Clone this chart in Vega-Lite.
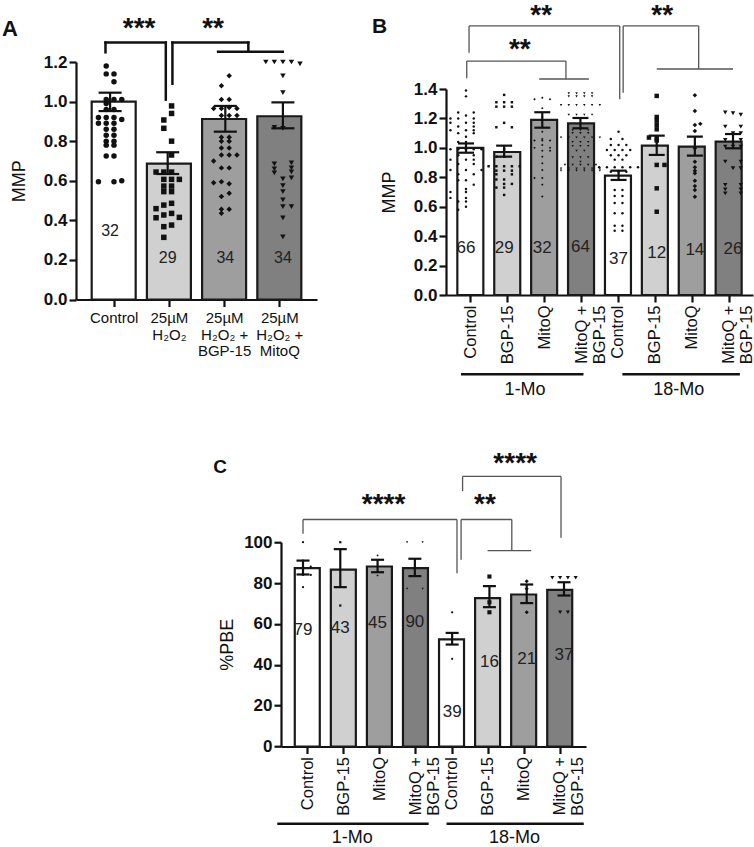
{
  "$schema": "https://vega.github.io/schema/vega-lite/v6.json",
  "padding": {"left": 2, "top": 2, "right": 0, "bottom": 0},
  "background": "white",
  "columns": 2,
  "spacing": {"row": 242.2, "column": 129},
  "align": {"row": "each", "column": "none"},
  "bounds": "flush",
  "config": {
    "view": {"stroke": null},
    "font": "Liberation Sans",
    "axis": {"domainColor": "#111", "domainWidth": 2.2, "tickColor": "#111", "tickWidth": 2.2, "tickSize": 7, "labelColor": "#111", "titleColor": "#111", "grid": false, "labelFont": "Liberation Sans", "titleFont": "Liberation Sans", "titleFontWeight": "normal", "labelOverlap": false, "labelFlush": false, "labelBound": false},
    "text": {"font": "Liberation Sans"}
  },
  "datasets": {
    "aBars": [{"i":0,"m":1.0,"lo":0.952,"hi":1.045},{"i":1,"m":0.687,"lo":0.634,"hi":0.744},{"i":2,"m":0.912,"lo":0.848,"hi":0.978},{"i":3,"m":0.926,"lo":0.865,"hi":0.996}],
    "aN": [{"i":0,"y":0.345,"t":"32"},{"i":1,"y":0.21,"t":"29"},{"i":2,"y":0.21,"t":"34"},{"i":3,"y":0.21,"t":"34"}],
    "aPts": [
      {"g":0,"v":1.18,"s":-0.5},{"g":0,"v":1.14,"s":-0.5},{"g":0,"v":1.14,"s":0.5},{"g":0,"v":1.10,"s":0.5},{"g":0,"v":1.01,"s":-0.5},{"g":0,"v":1.01,"s":0.5},{"g":0,"v":1.01,"s":1.5},{"g":0,"v":0.99,"s":-0.5},{"g":0,"v":0.96,"s":-0.5},{"g":0,"v":0.96,"s":0.5},{"g":0,"v":0.92,"s":-1.5},{"g":0,"v":0.92,"s":-0.5},{"g":0,"v":0.92,"s":0.5},{"g":0,"v":0.91,"s":1.5},{"g":0,"v":0.89,"s":-1.5},{"g":0,"v":0.89,"s":-0.5},{"g":0,"v":0.89,"s":0.5},{"g":0,"v":0.86,"s":-0.5},{"g":0,"v":0.86,"s":0.5},{"g":0,"v":0.83,"s":-0.5},{"g":0,"v":0.83,"s":0.5},{"g":0,"v":0.80,"s":-0.5},{"g":0,"v":0.80,"s":0.5},{"g":0,"v":0.78,"s":-0.5},{"g":0,"v":0.78,"s":0.5},{"g":0,"v":0.725,"s":-0.5},{"g":0,"v":0.725,"s":0.5},{"g":0,"v":0.595,"s":-1.5},{"g":0,"v":0.595,"s":0.5},{"g":0,"v":0.60,"s":1.5},
      {"g":1,"v":0.978,"s":0.5},{"g":1,"v":0.94,"s":0.5},{"g":1,"v":0.907,"s":-0.5},{"g":1,"v":0.865,"s":-0.5},{"g":1,"v":0.80,"s":0.5},{"g":1,"v":0.73,"s":0.5},{"g":1,"v":0.644,"s":-1.5},{"g":1,"v":0.644,"s":-0.5},{"g":1,"v":0.644,"s":0.5},{"g":1,"v":0.607,"s":-0.5},{"g":1,"v":0.607,"s":0.5},{"g":1,"v":0.607,"s":1.5},{"g":1,"v":0.573,"s":-0.5},{"g":1,"v":0.573,"s":0.5},{"g":1,"v":0.545,"s":-0.5},{"g":1,"v":0.545,"s":0.5},{"g":1,"v":0.486,"s":0.5},{"g":1,"v":0.477,"s":-0.5},{"g":1,"v":0.459,"s":-1.5},{"g":1,"v":0.435,"s":0.5},{"g":1,"v":0.427,"s":-0.5},{"g":1,"v":0.415,"s":1.5},{"g":1,"v":0.413,"s":-1.5},{"g":1,"v":0.376,"s":0.5},{"g":1,"v":0.368,"s":-0.5},{"g":1,"v":0.314,"s":-0.5},
      {"g":2,"v":1.13,"s":0.5},{"g":2,"v":1.08,"s":-0.5},{"g":2,"v":1.01,"s":-0.5},{"g":2,"v":1.01,"s":0.5},{"g":2,"v":0.965,"s":-1.5},{"g":2,"v":0.965,"s":-0.5},{"g":2,"v":0.97,"s":0.5},{"g":2,"v":0.965,"s":1.5},{"g":2,"v":0.93,"s":-0.5},{"g":2,"v":0.93,"s":0.5},{"g":2,"v":0.93,"s":1.5},{"g":2,"v":0.82,"s":-0.5},{"g":2,"v":0.82,"s":0.5},{"g":2,"v":0.80,"s":-0.5},{"g":2,"v":0.80,"s":0.5},{"g":2,"v":0.765,"s":-0.5},{"g":2,"v":0.765,"s":0.5},{"g":2,"v":0.73,"s":-0.5},{"g":2,"v":0.73,"s":0.5},{"g":2,"v":0.73,"s":1.5},{"g":2,"v":0.70,"s":-1.5},{"g":2,"v":0.665,"s":-0.5},{"g":2,"v":0.665,"s":0.5},{"g":2,"v":0.59,"s":-1.5},{"g":2,"v":0.595,"s":-0.5},{"g":2,"v":0.585,"s":0.5},{"g":2,"v":0.537,"s":0.5},{"g":2,"v":0.52,"s":-0.5},{"g":2,"v":0.456,"s":-0.5},{"g":2,"v":0.456,"s":0.5},{"g":2,"v":0.436,"s":-0.5},
      {"g":3,"v":1.2,"s":-2.2},{"g":3,"v":1.2,"s":-1.1},{"g":3,"v":1.2,"s":0},{"g":3,"v":1.2,"s":1.1},{"g":3,"v":1.19,"s":2.2},{"g":3,"v":1.13,"s":0},{"g":3,"v":1.045,"s":0},{"g":3,"v":0.865,"s":0},{"g":3,"v":0.87,"s":-1.1},{"g":3,"v":0.685,"s":-1.1},{"g":3,"v":0.69,"s":1.1},{"g":3,"v":0.66,"s":-1.1},{"g":3,"v":0.665,"s":1.1},{"g":3,"v":0.64,"s":-1.1},{"g":3,"v":0.645,"s":1.1},{"g":3,"v":0.61,"s":0},{"g":3,"v":0.615,"s":1.1},{"g":3,"v":0.575,"s":0},{"g":3,"v":0.545,"s":0},{"g":3,"v":0.503,"s":0},{"g":3,"v":0.469,"s":0},{"g":3,"v":0.469,"s":1.1},{"g":3,"v":0.413,"s":0},{"g":3,"v":0.317,"s":0}
    ],
    "aBr": [{"x":-0.08,"x2":-0.08,"y":1.249,"y2":1.298},{"x":-0.08,"x2":0.967,"y":1.298,"y2":1.298},{"x":0.967,"x2":0.967,"y":1.298,"y2":1.01},{"x":1.082,"x2":1.082,"y":1.09,"y2":1.298},{"x":1.082,"x2":2.40,"y":1.298,"y2":1.298},{"x":2.40,"x2":2.40,"y":1.298,"y2":1.252},{"x":1.875,"x2":2.998,"y":1.252,"y2":1.252}],
    "aTxt": [{"x":0.503,"y":1.436,"t":"***"},{"x":1.788,"y":1.436,"t":"**"}],
    "aLab": [{"x":-1.875,"y":1.415,"t":"A"}],
    "bBars": [{"i":0,"m":1.0,"lo":0.967,"hi":1.03},{"i":1,"m":0.972,"lo":0.94,"hi":1.015},{"i":2,"m":1.19,"lo":1.137,"hi":1.242},{"i":3,"m":1.167,"lo":1.133,"hi":1.203},{"i":4,"m":0.811,"lo":0.782,"hi":0.845},{"i":5,"m":1.015,"lo":0.952,"hi":1.083},{"i":6,"m":1.008,"lo":0.947,"hi":1.076},{"i":7,"m":1.042,"lo":0.997,"hi":1.094}],
    "bN": [{"i":0,"y":0.317,"t":"66"},{"i":1,"y":0.317,"t":"29"},{"i":2,"y":0.317,"t":"32"},{"i":3,"y":0.328,"t":"64"},{"i":4,"y":0.243,"t":"37"},{"i":5,"y":0.288,"t":"12"},{"i":6,"y":0.306,"t":"14"},{"i":7,"y":0.313,"t":"26"}],
    "bPts": [
      {"g":0,"v":1.39,"s":0},{"g":0,"v":1.35,"s":0},{"g":0,"v":1.24,"s":-1},{"g":0,"v":1.24,"s":1},{"g":0,"v":1.22,"s":0},{"g":0,"v":1.20,"s":-2},{"g":0,"v":1.20,"s":-1},{"g":0,"v":1.20,"s":1},{"g":0,"v":1.17,"s":-2},{"g":0,"v":1.17,"s":0},{"g":0,"v":1.17,"s":1},{"g":0,"v":1.145,"s":-1},{"g":0,"v":1.145,"s":1},{"g":0,"v":1.12,"s":-2},{"g":0,"v":1.12,"s":0},{"g":0,"v":1.12,"s":1},{"g":0,"v":1.10,"s":-1},{"g":0,"v":1.10,"s":1},{"g":0,"v":1.075,"s":0},{"g":0,"v":1.04,"s":-1},{"g":0,"v":1.04,"s":0},{"g":0,"v":0.99,"s":-2},{"g":0,"v":0.99,"s":-1},{"g":0,"v":0.99,"s":0},{"g":0,"v":0.99,"s":1},{"g":0,"v":0.99,"s":2},{"g":0,"v":0.95,"s":-1},{"g":0,"v":0.95,"s":1},{"g":0,"v":0.92,"s":-2},{"g":0,"v":0.92,"s":0},{"g":0,"v":0.92,"s":1},{"g":0,"v":0.89,"s":-1},{"g":0,"v":0.89,"s":1},{"g":0,"v":0.85,"s":-2},{"g":0,"v":0.85,"s":0},{"g":0,"v":0.85,"s":2},{"g":0,"v":0.82,"s":-1},{"g":0,"v":0.82,"s":1},{"g":0,"v":0.78,"s":-1},{"g":0,"v":0.78,"s":0},{"g":0,"v":0.75,"s":1},{"g":0,"v":0.72,"s":0},{"g":0,"v":0.70,"s":-2},{"g":0,"v":0.70,"s":0},{"g":0,"v":0.66,"s":-2},{"g":0,"v":0.66,"s":0},{"g":0,"v":0.635,"s":-1},{"g":0,"v":0.635,"s":0},{"g":0,"v":0.60,"s":0},{"g":0,"v":0.58,"s":-1},
      {"g":1,"v":1.36,"s":0},{"g":1,"v":1.31,"s":-1},{"g":1,"v":1.31,"s":0},{"g":1,"v":1.31,"s":1},{"g":1,"v":1.28,"s":-1},{"g":1,"v":1.28,"s":0},{"g":1,"v":1.28,"s":1},{"g":1,"v":1.17,"s":0},{"g":1,"v":1.14,"s":-1},{"g":1,"v":1.14,"s":1},{"g":1,"v":0.99,"s":0},{"g":1,"v":0.94,"s":-1},{"g":1,"v":0.94,"s":0},{"g":1,"v":0.875,"s":-2},{"g":1,"v":0.875,"s":-1},{"g":1,"v":0.875,"s":0},{"g":1,"v":0.875,"s":1},{"g":1,"v":0.875,"s":2},{"g":1,"v":0.845,"s":-1},{"g":1,"v":0.845,"s":0},{"g":1,"v":0.845,"s":1},{"g":1,"v":0.82,"s":-1},{"g":1,"v":0.82,"s":1},{"g":1,"v":0.785,"s":-1},{"g":1,"v":0.785,"s":0},{"g":1,"v":0.755,"s":0},{"g":1,"v":0.755,"s":1},{"g":1,"v":0.73,"s":-1},{"g":1,"v":0.73,"s":0},{"g":1,"v":0.68,"s":0},
      {"g":2,"v":1.34,"s":0},{"g":2,"v":1.33,"s":-1},{"g":2,"v":1.33,"s":1},{"g":2,"v":1.27,"s":0},{"g":2,"v":1.21,"s":0},{"g":2,"v":1.11,"s":0},{"g":2,"v":1.06,"s":0},{"g":2,"v":1.05,"s":-1},{"g":2,"v":1.05,"s":0},{"g":2,"v":1.05,"s":1},{"g":2,"v":1.02,"s":0},{"g":2,"v":1.0,"s":-1},{"g":2,"v":1.0,"s":1},{"g":2,"v":0.98,"s":0},{"g":2,"v":0.98,"s":1},{"g":2,"v":0.94,"s":0},{"g":2,"v":0.895,"s":0},{"g":2,"v":0.85,"s":0},{"g":2,"v":0.795,"s":-1},{"g":2,"v":0.795,"s":0},{"g":2,"v":0.75,"s":0},{"g":2,"v":0.67,"s":0},
      {"g":3,"v":1.37,"s":-1.5},{"g":3,"v":1.37,"s":-0.5},{"g":3,"v":1.37,"s":0.5},{"g":3,"v":1.37,"s":1.5},{"g":3,"v":1.35,"s":-1.5},{"g":3,"v":1.35,"s":-0.5},{"g":3,"v":1.35,"s":0.5},{"g":3,"v":1.35,"s":1.5},{"g":3,"v":1.29,"s":-2.5},{"g":3,"v":1.29,"s":-1.5},{"g":3,"v":1.29,"s":-0.5},{"g":3,"v":1.29,"s":0.5},{"g":3,"v":1.29,"s":1.5},{"g":3,"v":1.29,"s":2.5},{"g":3,"v":1.225,"s":-1.5},{"g":3,"v":1.225,"s":-0.5},{"g":3,"v":1.225,"s":0.5},{"g":3,"v":1.225,"s":1.5},{"g":3,"v":1.12,"s":-1},{"g":3,"v":1.12,"s":0},{"g":3,"v":1.12,"s":1},{"g":3,"v":1.10,"s":-1},{"g":3,"v":1.10,"s":0},{"g":3,"v":1.10,"s":1},{"g":3,"v":1.07,"s":-2.5},{"g":3,"v":1.07,"s":-1.5},{"g":3,"v":1.07,"s":-0.5},{"g":3,"v":1.07,"s":0.5},{"g":3,"v":1.07,"s":1.5},{"g":3,"v":1.07,"s":2.5},{"g":3,"v":1.04,"s":-1},{"g":3,"v":1.04,"s":0},{"g":3,"v":1.04,"s":1},{"g":3,"v":1.013,"s":-1},{"g":3,"v":1.013,"s":0},{"g":3,"v":1.013,"s":1},{"g":3,"v":0.98,"s":-0.5},{"g":3,"v":0.98,"s":0.5},{"g":3,"v":0.935,"s":-1},{"g":3,"v":0.935,"s":0},{"g":3,"v":0.935,"s":1},{"g":3,"v":0.906,"s":0},{"g":3,"v":0.884,"s":-2},{"g":3,"v":0.884,"s":-1},{"g":3,"v":0.884,"s":0},{"g":3,"v":0.884,"s":1},{"g":3,"v":0.884,"s":2},{"g":3,"v":0.86,"s":-2.5},{"g":3,"v":0.86,"s":-1.5},{"g":3,"v":0.86,"s":-0.5},{"g":3,"v":0.86,"s":0.5},{"g":3,"v":0.86,"s":1.5},{"g":3,"v":0.86,"s":2.5},{"g":3,"v":0.845,"s":-2.5},{"g":3,"v":0.845,"s":-1.5},{"g":3,"v":0.845,"s":-0.5},{"g":3,"v":0.845,"s":0.5},{"g":3,"v":0.845,"s":1.5},{"g":3,"v":0.845,"s":2.5},
      {"g":4,"v":1.11,"s":0},{"g":4,"v":1.06,"s":-1},{"g":4,"v":1.06,"s":0.5},{"g":4,"v":1.02,"s":-1},{"g":4,"v":1.02,"s":0},{"g":4,"v":1.02,"s":1},{"g":4,"v":0.985,"s":-1.5},{"g":4,"v":0.985,"s":-0.5},{"g":4,"v":0.985,"s":0.5},{"g":4,"v":0.985,"s":1.5},{"g":4,"v":0.95,"s":-1},{"g":4,"v":0.95,"s":0},{"g":4,"v":0.95,"s":1},{"g":4,"v":0.92,"s":-0.5},{"g":4,"v":0.92,"s":0.5},{"g":4,"v":0.868,"s":-2.5},{"g":4,"v":0.868,"s":-1.5},{"g":4,"v":0.868,"s":-0.5},{"g":4,"v":0.868,"s":0.5},{"g":4,"v":0.868,"s":1.5},{"g":4,"v":0.868,"s":2.5},{"g":4,"v":0.838,"s":-1},{"g":4,"v":0.838,"s":0},{"g":4,"v":0.838,"s":1},{"g":4,"v":0.714,"s":-0.5},{"g":4,"v":0.714,"s":0.5},{"g":4,"v":0.673,"s":-0.5},{"g":4,"v":0.673,"s":0.5},{"g":4,"v":0.625,"s":-0.5},{"g":4,"v":0.625,"s":0.5},{"g":4,"v":0.555,"s":-0.5},{"g":4,"v":0.555,"s":0.5},{"g":4,"v":0.47,"s":-0.5},{"g":4,"v":0.47,"s":0.5},{"g":4,"v":0.437,"s":-0.5},{"g":4,"v":0.437,"s":0.5},
      {"g":5,"v":1.353,"s":0},{"g":5,"v":1.21,"s":0},{"g":5,"v":1.185,"s":0},{"g":5,"v":1.156,"s":0},{"g":5,"v":1.126,"s":0},{"g":5,"v":1.07,"s":-1},{"g":5,"v":1.065,"s":0},{"g":5,"v":1.05,"s":0},{"g":5,"v":0.884,"s":0},{"g":5,"v":0.884,"s":1},{"g":5,"v":0.725,"s":0},{"g":5,"v":0.566,"s":0},
      {"g":6,"v":1.357,"s":0},{"g":6,"v":1.25,"s":0},{"g":6,"v":1.163,"s":0.7},{"g":6,"v":1.155,"s":0},{"g":6,"v":1.115,"s":0},{"g":6,"v":0.997,"s":0},{"g":6,"v":0.906,"s":0},{"g":6,"v":0.868,"s":0},{"g":6,"v":0.845,"s":0},{"g":6,"v":0.827,"s":0},{"g":6,"v":0.777,"s":0},{"g":6,"v":0.74,"s":0},{"g":6,"v":0.714,"s":0},{"g":6,"v":0.668,"s":0},
      {"g":7,"v":1.24,"s":-1},{"g":7,"v":1.235,"s":0},{"g":7,"v":1.225,"s":1},{"g":7,"v":1.144,"s":-1},{"g":7,"v":1.144,"s":1},{"g":7,"v":1.10,"s":0},{"g":7,"v":1.10,"s":1},{"g":7,"v":1.053,"s":-1},{"g":7,"v":1.053,"s":1},{"g":7,"v":1.008,"s":-1},{"g":7,"v":1.008,"s":0},{"g":7,"v":1.008,"s":1},{"g":7,"v":0.906,"s":-1},{"g":7,"v":0.906,"s":1},{"g":7,"v":0.861,"s":0},{"g":7,"v":0.861,"s":1},{"g":7,"v":0.748,"s":-1},{"g":7,"v":0.748,"s":1},{"g":7,"v":0.718,"s":-1},{"g":7,"v":0.718,"s":1},{"g":7,"v":0.691,"s":-1},{"g":7,"v":0.691,"s":1}
    ],
    "bBr": [{"x":0.08,"x2":0.08,"y":1.647,"y2":1.829},{"x":0.08,"x2":4.03,"y":1.829,"y2":1.829},{"x":4.03,"x2":4.03,"y":1.829,"y2":1.33},{"x":0.02,"x2":0.02,"y":1.473,"y2":1.59},{"x":0.02,"x2":2.62,"y":1.59,"y2":1.59},{"x":2.62,"x2":2.62,"y":1.59,"y2":1.468},{"x":1.92,"x2":3.22,"y":1.468,"y2":1.468},{"x":4.12,"x2":4.12,"y":1.829,"y2":1.375},{"x":4.12,"x2":6.1,"y":1.829,"y2":1.829},{"x":6.1,"x2":6.1,"y":1.829,"y2":1.536},{"x":5.0,"x2":7.0,"y":1.536,"y2":1.536}],
    "bTxt": [{"x":1.972,"y":1.991,"t":"**"},{"x":1.41,"y":1.762,"t":"**"},{"x":5.144,"y":1.991,"t":"**"}],
    "bLab": [{"x":-2.464,"y":1.894,"t":"B"}],
    "bGrpLine": [{"x":-0.13,"x2":3.08,"y":-0.539},{"x":4.1,"x2":7.18,"y":-0.539}],
    "bGrpTxt": [{"x":1.55,"y":-0.648,"t":"1-Mo"},{"x":5.58,"y":-0.648,"t":"18-Mo"}],
    "cBars": [{"i":0,"m":87.3,"lo":84.2,"hi":91.0},{"i":1,"m":86.6,"lo":78.0,"hi":96.6},{"i":2,"m":88.1,"lo":85.3,"hi":91.4},{"i":3,"m":87.3,"lo":83.4,"hi":91.9},{"i":4,"m":52.4,"lo":49.9,"hi":55.6},{"i":5,"m":72.6,"lo":68.2,"hi":78.5},{"i":6,"m":74.4,"lo":70.2,"hi":79.3},{"i":7,"m":76.7,"lo":73.9,"hi":80.4}],
    "cN": [{"i":0,"y":56.8,"t":"79"},{"i":1,"y":58.1,"t":"43"},{"i":2,"y":60.4,"t":"45"},{"i":3,"y":60.9,"t":"90"},{"i":4,"y":16.8,"t":"39"},{"i":5,"y":41.3,"t":"16"},{"i":6,"y":42.6,"t":"21"},{"i":7,"y":44.9,"t":"37"}],
    "cPts": [
      {"g":0,"v":100,"s":0},{"g":0,"v":91,"s":0},{"g":0,"v":88,"s":1},{"g":0,"v":84,"s":0},{"g":0,"v":84,"s":1},{"g":0,"v":78,"s":0},
      {"g":1,"v":100,"s":0},{"g":1,"v":69,"s":0},
      {"g":2,"v":93.5,"s":0},{"g":2,"v":83.7,"s":0},
      {"g":3,"v":100,"s":-1},{"g":3,"v":100,"s":1},{"g":3,"v":77.2,"s":-1},{"g":3,"v":77.2,"s":1},
      {"g":4,"v":65.7,"s":0},{"g":4,"v":42.9,"s":0},
      {"g":5,"v":83.2,"s":0},{"g":5,"v":70.6,"s":0},{"g":5,"v":65.7,"s":0},
      {"g":6,"v":80.9,"s":0},{"g":6,"v":77.2,"s":0},{"g":6,"v":65.7,"s":0},
      {"g":7,"v":82.6,"s":-1.5},{"g":7,"v":82.6,"s":-0.5},{"g":7,"v":82.6,"s":0.5},{"g":7,"v":82.6,"s":1.5},{"g":7,"v":65.7,"s":-0.5},{"g":7,"v":65.7,"s":0.5}
    ],
    "cBr": [{"x":0.0,"x2":0.0,"y":104.1,"y2":111.1},{"x":0.0,"x2":4.13,"y":111.1,"y2":111.1},{"x":4.13,"x2":4.13,"y":111.1,"y2":84.8},{"x":4.24,"x2":4.24,"y":111.1,"y2":91.4},{"x":4.24,"x2":5.6,"y":111.1,"y2":111.1},{"x":5.6,"x2":5.6,"y":111.1,"y2":95.9},{"x":4.95,"x2":6.12,"y":95.9,"y2":95.9},{"x":4.28,"x2":4.28,"y":132.2,"y2":125},{"x":4.28,"x2":6.92,"y":132.2,"y2":132.2},{"x":6.92,"x2":6.92,"y":132.2,"y2":102.2}],
    "cTxt": [{"x":2.16,"y":125.0,"t":"****"},{"x":4.88,"y":125.0,"t":"**"},{"x":5.69,"y":145.0,"t":"****"}],
    "cLab": [{"x":-2.41,"y":141.2,"t":"C"}],
    "cGrpLine": [{"x":-0.69,"x2":3.37,"y":-37.8},{"x":3.85,"x2":7.53,"y":-37.8}],
    "cGrpTxt": [{"x":1.32,"y":-45,"t":"1-Mo"},{"x":5.67,"y":-45,"t":"18-Mo"}]
  },
  "concat": [
    {
      "width": 241, "height": 237.5,
      "resolve": {"scale": {"x": "independent"}},
      "layer": [
        {
          "data": {"name": "aBars"},
          "mark": {"type": "bar", "orient": "vertical", "width": 44, "stroke": "#1a1a1a", "strokeWidth": 2.2, "opacity": 1},
          "encoding": {
            "x": {"field": "i", "type": "quantitative", "scale": {"domain": [-0.592, 3.592], "nice": false, "zero": false},
                  "axis": {"values": [0,1,2,3], "title": null, "labelExpr": "[['Control'],['25µM','H₂O₂'],['25µM','H₂O₂ +','BGP-15'],['25µM','H₂O₂ +','MitoQ']][datum.value]", "labelFontSize": 15, "labelBaseline": "top", "labelAlign": "center", "labelLineHeight": 16.7, "labelPadding": 4, "labelAngle": 0}},
            "y": {"field": "m", "type": "quantitative", "scale": {"domain": [0, 1.2], "nice": false},
                  "axis": {"values": [0,0.2,0.4,0.6,0.8,1,1.2], "format": ".1f", "title": "MMP", "titleFontSize": 18, "titlePadding": 14.5, "labelFontSize": 17, "labelFontWeight": "bold", "labelPadding": 2, "labelOverlap": false}},
            "fill": {"field": "i", "type": "nominal", "scale": {"domain": [0,1,2,3], "range": ["#ffffff","#d0d0d0","#9e9e9e","#808080"]}, "legend": null}
          }
        },
        {
          "data": {"name": "aPts"},
          "mark": {"type": "point", "filled": true, "opacity": 1, "color": "#111", "size": 30},
          "encoding": {
            "x": {"field": "g", "type": "ordinal", "scale": {"type": "point", "padding": 0.592, "domain": [0,1,2,3]}, "axis": null},
            "xOffset": {"field": "s", "type": "quantitative", "scale": {"domain": [-2.5, 2.5], "range": [-23.3, 23.3]}},
            "y": {"field": "v", "type": "quantitative", "scale": {"domain": [0, 1.2], "nice": false},
                  "axis": {"values": [0,0.2,0.4,0.6,0.8,1,1.2], "format": ".1f", "title": "MMP", "titleFontSize": 18, "titlePadding": 14.5, "labelFontSize": 17, "labelFontWeight": "bold", "labelPadding": 2, "labelOverlap": false}},
            "shape": {"field": "g", "type": "nominal", "scale": {"domain": [0,1,2,3], "range": ["circle","square","diamond","triangle-down"]}, "legend": null}
          }
        },
        {
          "encoding": {
            "y": {"type": "quantitative", "scale": {"domain": [0, 1.2], "nice": false},
                  "axis": {"values": [0,0.2,0.4,0.6,0.8,1,1.2], "format": ".1f", "title": "MMP", "titleFontSize": 18, "titlePadding": 14.5, "labelFontSize": 17, "labelFontWeight": "bold", "labelPadding": 2, "labelOverlap": false}}
          },
          "layer": [
            {
              "data": {"name": "aBars"},
              "mark": {"type": "rule", "color": "#111", "strokeWidth": 2.2},
              "encoding": {
                "x": {"field": "i", "type": "quantitative", "scale": {"domain": [-0.592, 3.592], "nice": false, "zero": false}, "axis": null},
                "y": {"field": "lo"},
                "y2": {"field": "hi"}
              }
            },
            {
              "data": {"name": "aBars"},
              "mark": {"type": "tick", "orient": "horizontal", "color": "#111", "thickness": 2.2, "size": 23, "opacity": 1},
              "encoding": {
                "x": {"field": "i", "type": "quantitative", "scale": {"domain": [-0.592, 3.592], "nice": false, "zero": false}, "axis": null},
                "y": {"field": "lo"}
              }
            },
            {
              "data": {"name": "aBars"},
              "mark": {"type": "tick", "orient": "horizontal", "color": "#111", "thickness": 2.2, "size": 23, "opacity": 1},
              "encoding": {
                "x": {"field": "i", "type": "quantitative", "scale": {"domain": [-0.592, 3.592], "nice": false, "zero": false}, "axis": null},
                "y": {"field": "hi"}
              }
            },
            {
              "data": {"name": "aN"},
              "mark": {"type": "text", "fontSize": 16, "color": "#222", "baseline": "middle", "align": "center"},
              "encoding": {
                "x": {"field": "i", "type": "quantitative", "scale": {"domain": [-0.592, 3.592], "nice": false, "zero": false}, "axis": null},
                "y": {"field": "y"},
                "text": {"field": "t"}
              }
            },
            {
              "data": {"name": "aBr"},
              "mark": {"type": "rule", "color": "#111", "strokeWidth": 2.5, "strokeCap": "square"},
              "encoding": {
                "x": {"field": "x", "type": "quantitative", "scale": {"domain": [-0.592, 3.592], "nice": false, "zero": false}, "axis": null},
                "x2": {"field": "x2"},
                "y": {"field": "y"},
                "y2": {"field": "y2"}
              }
            },
            {
              "data": {"name": "aTxt"},
              "mark": {"type": "text", "fontSize": 28, "fontWeight": "bold", "baseline": "top", "align": "center", "color": "#111"},
              "encoding": {
                "x": {"field": "x", "type": "quantitative", "scale": {"domain": [-0.592, 3.592], "nice": false, "zero": false}, "axis": null},
                "y": {"field": "y"},
                "text": {"field": "t"}
              }
            },
            {
              "data": {"name": "aLab"},
              "mark": {"type": "text", "fontSize": 22, "fontWeight": "bold", "baseline": "top", "align": "left", "color": "#111"},
              "encoding": {
                "x": {"field": "x", "type": "quantitative", "scale": {"domain": [-0.592, 3.592], "nice": false, "zero": false}, "axis": null},
                "y": {"field": "y"},
                "text": {"field": "t"}
              }
            }
          ]
        }
      ]
    },
    {
      "width": 307, "height": 233,
      "resolve": {"scale": {"x": "independent"}},
      "layer": [
        {
          "data": {"name": "bBars"},
          "mark": {"type": "bar", "orient": "vertical", "width": 26, "stroke": "#1a1a1a", "strokeWidth": 2.2, "opacity": 1},
          "encoding": {
            "x": {"field": "i", "type": "quantitative", "scale": {"domain": [-0.524, 7.524], "nice": false, "zero": false},
                  "axis": {"values": [0,1,2,3,4,5,6,7], "title": null, "labelExpr": "['Control','BGP-15','MitoQ',['MitoQ +','BGP-15'],'Control','BGP-15','MitoQ',['MitoQ +','BGP-15']][datum.value]", "labelFontSize": 16.5, "labelAngle": 270, "labelAlign": "right", "labelBaseline": "middle", "labelLineHeight": 18, "labelPadding": 3}},
            "y": {"field": "m", "type": "quantitative", "scale": {"domain": [0, 1.4], "range": [233, 27], "nice": false},
                  "axis": {"values": [0,0.2,0.4,0.6,0.8,1,1.2,1.4], "format": ".1f", "title": "MMP", "titleFontSize": 18, "titlePadding": 14.5, "labelFontSize": 17, "labelFontWeight": "bold", "labelPadding": 2, "labelOverlap": false}},
            "fill": {"field": "i", "type": "nominal", "scale": {"domain": [0,1,2,3,4,5,6,7], "range": ["#ffffff","#d0d0d0","#9e9e9e","#808080","#ffffff","#d0d0d0","#9e9e9e","#808080"]}, "legend": null}
          }
        },
        {
          "encoding": {
            "x": {"field": "g", "type": "ordinal", "scale": {"type": "point", "padding": 0.524, "domain": [0,1,2,3,4,5,6,7]}, "axis": null},
            "xOffset": {"field": "s", "type": "quantitative", "scale": {"domain": [-3, 3], "range": [-14, 14]}},
            "y": {"field": "v", "type": "quantitative", "scale": {"domain": [0, 1.4], "range": [233, 27], "nice": false},
                  "axis": {"values": [0,0.2,0.4,0.6,0.8,1,1.2,1.4], "format": ".1f", "title": "MMP", "titleFontSize": 18, "titlePadding": 14.5, "labelFontSize": 17, "labelFontWeight": "bold", "labelPadding": 2, "labelOverlap": false}},
            "shape": {"field": "g", "type": "nominal", "scale": {"domain": [0,1,2,3,4,5,6,7], "range": ["circle","square","triangle-up","triangle-down","circle","circle","square","circle"]}, "legend": null}
          },
          "layer": [
            {
              "data": {"name": "bPts"},
              "transform": [{"filter": "datum.g <= 4"}],
              "mark": {"type": "point", "filled": true, "opacity": 1, "color": "#111", "size": 6}
            },
            {
              "data": {"name": "bPts"},
              "transform": [{"filter": "datum.g >= 5"}],
              "mark": {"type": "point", "filled": true, "opacity": 1, "color": "#111", "size": 20}
            }
          ]
        },
        {
          "encoding": {
            "y": {"type": "quantitative", "scale": {"domain": [0, 1.4], "range": [233, 27], "nice": false},
                  "axis": {"values": [0,0.2,0.4,0.6,0.8,1,1.2,1.4], "format": ".1f", "title": "MMP", "titleFontSize": 18, "titlePadding": 14.5, "labelFontSize": 17, "labelFontWeight": "bold", "labelPadding": 2, "labelOverlap": false}}
          },
          "layer": [
            {
              "data": {"name": "bBars"},
              "mark": {"type": "rule", "color": "#111", "strokeWidth": 2.2},
              "encoding": {
                "x": {"field": "i", "type": "quantitative", "scale": {"domain": [-0.524, 7.524], "nice": false, "zero": false}, "axis": null},
                "y": {"field": "lo"},
                "y2": {"field": "hi"}
              }
            },
            {
              "data": {"name": "bBars"},
              "mark": {"type": "tick", "orient": "horizontal", "color": "#111", "thickness": 2.2, "size": 16, "opacity": 1},
              "encoding": {
                "x": {"field": "i", "type": "quantitative", "scale": {"domain": [-0.524, 7.524], "nice": false, "zero": false}, "axis": null},
                "y": {"field": "lo"}
              }
            },
            {
              "data": {"name": "bBars"},
              "mark": {"type": "tick", "orient": "horizontal", "color": "#111", "thickness": 2.2, "size": 16, "opacity": 1},
              "encoding": {
                "x": {"field": "i", "type": "quantitative", "scale": {"domain": [-0.524, 7.524], "nice": false, "zero": false}, "axis": null},
                "y": {"field": "hi"}
              }
            },
            {
              "data": {"name": "bN"},
              "mark": {"type": "text", "fontSize": 17, "color": "#222", "baseline": "middle", "align": "center"},
              "encoding": {
                "x": {"field": "i", "type": "quantitative", "scale": {"domain": [-0.524, 7.524], "nice": false, "zero": false}, "axis": null},
                "y": {"field": "y"},
                "text": {"field": "t"}
              }
            },
            {
              "data": {"name": "bBr"},
              "mark": {"type": "rule", "color": "#555", "strokeWidth": 1.3},
              "encoding": {
                "x": {"field": "x", "type": "quantitative", "scale": {"domain": [-0.524, 7.524], "nice": false, "zero": false}, "axis": null},
                "x2": {"field": "x2"},
                "y": {"field": "y"},
                "y2": {"field": "y2"}
              }
            },
            {
              "data": {"name": "bTxt"},
              "mark": {"type": "text", "fontSize": 28, "fontWeight": "bold", "baseline": "top", "align": "center", "color": "#111"},
              "encoding": {
                "x": {"field": "x", "type": "quantitative", "scale": {"domain": [-0.524, 7.524], "nice": false, "zero": false}, "axis": null},
                "y": {"field": "y"},
                "text": {"field": "t"}
              }
            },
            {
              "data": {"name": "bLab"},
              "mark": {"type": "text", "fontSize": 21, "fontWeight": "bold", "baseline": "top", "align": "left", "color": "#111"},
              "encoding": {
                "x": {"field": "x", "type": "quantitative", "scale": {"domain": [-0.524, 7.524], "nice": false, "zero": false}, "axis": null},
                "y": {"field": "y"},
                "text": {"field": "t"}
              }
            },
            {
              "data": {"name": "bGrpLine"},
              "mark": {"type": "rule", "color": "#111", "strokeWidth": 2.5},
              "encoding": {
                "x": {"field": "x", "type": "quantitative", "scale": {"domain": [-0.524, 7.524], "nice": false, "zero": false}, "axis": null},
                "x2": {"field": "x2"},
                "y": {"field": "y"}
              }
            },
            {
              "data": {"name": "bGrpTxt"},
              "mark": {"type": "text", "fontSize": 18, "baseline": "middle", "align": "center", "color": "#111"},
              "encoding": {
                "x": {"field": "x", "type": "quantitative", "scale": {"domain": [-0.524, 7.524], "nice": false, "zero": false}, "axis": null},
                "y": {"field": "y"},
                "text": {"field": "t"}
              }
            }
          ]
        }
      ]
    },
    {
      "width": 241, "height": 204.3,
      "resolve": {"scale": {"x": "independent"}},
      "layer": [
        {
          "data": {"name": "cBars"},
          "mark": {"type": "bar", "orient": "vertical", "width": 25, "stroke": "#1a1a1a", "strokeWidth": 2.2, "opacity": 1},
          "encoding": {
            "x": {"field": "i", "type": "quantitative", "scale": {"domain": [-0.59, 7.59], "range": [205, 510], "nice": false, "zero": false},
                  "axis": {"values": [0,1,2,3,4,5,6,7], "title": null, "labelExpr": "['Control','BGP-15','MitoQ',['MitoQ +','BGP-15'],'Control','BGP-15','MitoQ',['MitoQ +','BGP-15']][datum.value]", "labelFontSize": 16.5, "labelAngle": 270, "labelAlign": "right", "labelBaseline": "middle", "labelLineHeight": 18, "labelPadding": 3}},
            "y": {"field": "m", "type": "quantitative", "scale": {"domain": [0, 100], "nice": false},
                  "axis": {"values": [0,20,40,60,80,100], "format": "d", "title": "%PBE", "titleFontSize": 18, "titlePadding": 7, "labelFontSize": 17, "labelFontWeight": "bold", "labelPadding": 2, "labelOverlap": false, "offset": -205}},
            "fill": {"field": "i", "type": "nominal", "scale": {"domain": [0,1,2,3,4,5,6,7], "range": ["#ffffff","#d0d0d0","#9e9e9e","#808080","#ffffff","#d0d0d0","#9e9e9e","#808080"]}, "legend": null}
          }
        },
        {
          "encoding": {
            "x": {"field": "g", "type": "ordinal", "scale": {"type": "point", "padding": 0.59, "domain": [0,1,2,3,4,5,6,7], "range": [205, 510]}, "axis": null},
            "xOffset": {"field": "s", "type": "quantitative", "scale": {"domain": [-3, 3], "range": [-15, 15]}},
            "y": {"field": "v", "type": "quantitative", "scale": {"domain": [0, 100], "nice": false},
                  "axis": {"values": [0,20,40,60,80,100], "format": "d", "title": "%PBE", "titleFontSize": 18, "titlePadding": 7, "labelFontSize": 17, "labelFontWeight": "bold", "labelPadding": 2, "labelOverlap": false, "offset": -205}},
            "shape": {"field": "g", "type": "nominal", "scale": {"domain": [0,1,2,3,4,5,6,7], "range": ["circle","square","triangle-up","triangle-down","circle","circle","square","circle"]}, "legend": null}
          },
          "layer": [
            {
              "data": {"name": "cPts"},
              "transform": [{"filter": "datum.g <= 4"}],
              "mark": {"type": "point", "filled": true, "opacity": 1, "color": "#111", "size": 5}
            },
            {
              "data": {"name": "cPts"},
              "transform": [{"filter": "datum.g >= 5"}],
              "mark": {"type": "point", "filled": true, "opacity": 1, "color": "#111", "size": 17}
            }
          ]
        },
        {
          "encoding": {
            "y": {"type": "quantitative", "scale": {"domain": [0, 100], "nice": false},
                  "axis": {"values": [0,20,40,60,80,100], "format": "d", "title": "%PBE", "titleFontSize": 18, "titlePadding": 7, "labelFontSize": 17, "labelFontWeight": "bold", "labelPadding": 2, "labelOverlap": false, "offset": -205}}
          },
          "layer": [
            {
              "data": {"name": "cBars"},
              "mark": {"type": "rule", "color": "#111", "strokeWidth": 2.2},
              "encoding": {
                "x": {"field": "i", "type": "quantitative", "scale": {"domain": [-0.59, 7.59], "range": [205, 510], "nice": false, "zero": false}, "axis": null},
                "y": {"field": "lo"},
                "y2": {"field": "hi"}
              }
            },
            {
              "data": {"name": "cBars"},
              "mark": {"type": "tick", "orient": "horizontal", "color": "#111", "thickness": 2.2, "size": 13, "opacity": 1},
              "encoding": {
                "x": {"field": "i", "type": "quantitative", "scale": {"domain": [-0.59, 7.59], "range": [205, 510], "nice": false, "zero": false}, "axis": null},
                "y": {"field": "lo"}
              }
            },
            {
              "data": {"name": "cBars"},
              "mark": {"type": "tick", "orient": "horizontal", "color": "#111", "thickness": 2.2, "size": 13, "opacity": 1},
              "encoding": {
                "x": {"field": "i", "type": "quantitative", "scale": {"domain": [-0.59, 7.59], "range": [205, 510], "nice": false, "zero": false}, "axis": null},
                "y": {"field": "hi"}
              }
            },
            {
              "data": {"name": "cN"},
              "mark": {"type": "text", "fontSize": 17, "color": "#222", "baseline": "middle", "align": "center"},
              "encoding": {
                "x": {"field": "i", "type": "quantitative", "scale": {"domain": [-0.59, 7.59], "range": [205, 510], "nice": false, "zero": false}, "axis": null},
                "y": {"field": "y"},
                "text": {"field": "t"}
              }
            },
            {
              "data": {"name": "cBr"},
              "mark": {"type": "rule", "color": "#555", "strokeWidth": 1.3},
              "encoding": {
                "x": {"field": "x", "type": "quantitative", "scale": {"domain": [-0.59, 7.59], "range": [205, 510], "nice": false, "zero": false}, "axis": null},
                "x2": {"field": "x2"},
                "y": {"field": "y"},
                "y2": {"field": "y2"}
              }
            },
            {
              "data": {"name": "cTxt"},
              "mark": {"type": "text", "fontSize": 28, "fontWeight": "bold", "baseline": "top", "align": "center", "color": "#111"},
              "encoding": {
                "x": {"field": "x", "type": "quantitative", "scale": {"domain": [-0.59, 7.59], "range": [205, 510], "nice": false, "zero": false}, "axis": null},
                "y": {"field": "y"},
                "text": {"field": "t"}
              }
            },
            {
              "data": {"name": "cLab"},
              "mark": {"type": "text", "fontSize": 19, "fontWeight": "bold", "baseline": "top", "align": "left", "color": "#111"},
              "encoding": {
                "x": {"field": "x", "type": "quantitative", "scale": {"domain": [-0.59, 7.59], "range": [205, 510], "nice": false, "zero": false}, "axis": null},
                "y": {"field": "y"},
                "text": {"field": "t"}
              }
            },
            {
              "data": {"name": "cGrpLine"},
              "mark": {"type": "rule", "color": "#111", "strokeWidth": 2.5},
              "encoding": {
                "x": {"field": "x", "type": "quantitative", "scale": {"domain": [-0.59, 7.59], "range": [205, 510], "nice": false, "zero": false}, "axis": null},
                "x2": {"field": "x2"},
                "y": {"field": "y"}
              }
            },
            {
              "data": {"name": "cGrpTxt"},
              "mark": {"type": "text", "fontSize": 18, "baseline": "middle", "align": "center", "color": "#111"},
              "encoding": {
                "x": {"field": "x", "type": "quantitative", "scale": {"domain": [-0.59, 7.59], "range": [205, 510], "nice": false, "zero": false}, "axis": null},
                "y": {"field": "y"},
                "text": {"field": "t"}
              }
            }
          ]
        }
      ]
    }
  ]
}
